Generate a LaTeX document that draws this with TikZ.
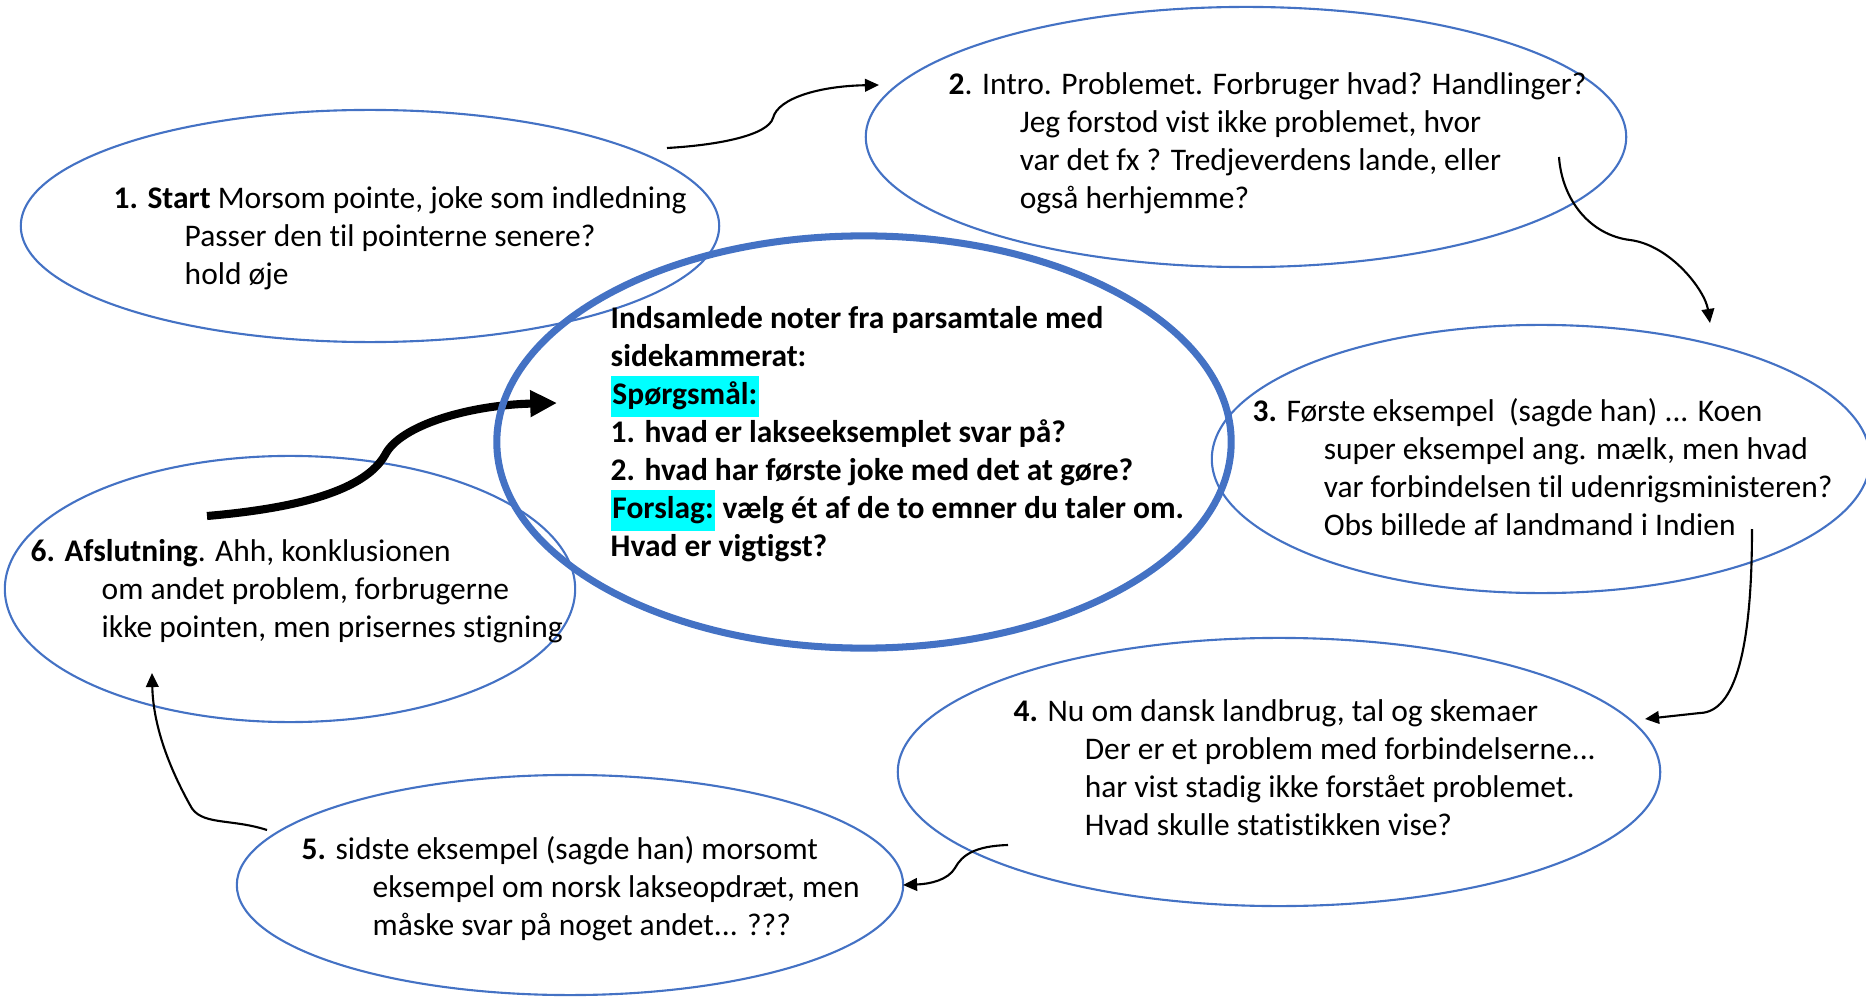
\documentclass[tikz,border=0pt]{standalone}
\usepackage{fontspec}
\setmainfont{Carlito}[Ligatures=NoCommon]
\usepackage{xcolor}
\usetikzlibrary{arrows.meta,shapes.geometric,calc,positioning}
\definecolor{bubblue}{HTML}{4472C4}
\definecolor{hlcyan}{HTML}{00FFFF}
\newcommand{\ind}{\hspace*{0.71cm}}
\newcommand{\hlbox}[1]{{\setlength{\fboxsep}{0.5pt}\colorbox{hlcyan}{\strut #1}}}

\begin{document}
\begin{tikzpicture}[x=0.01cm, y=-0.01cm]
		\tikzstyle{every node}=[font=\fontsize{8.95}{10.8}\selectfont]
		\tikzstyle{bubble}=[ellipse, draw=bubblue, line width=0.6pt, inner sep=0pt]
		\tikzstyle{notes}=[anchor=north west, align=left, inner sep=0pt]
		\tikzstyle{flow}=[line width=0.6pt, -{Triangle[length=4pt,width=3.6pt]}]
		\useasboundingbox (0,0) rectangle (1866,997);
		% end points of the connectors
		\coordinate (a1s) at (667,148);
		\coordinate (a1e) at (879,85);
		\coordinate (a2s) at (1559,157);
		\coordinate (a2e) at (1710,323);
		\coordinate (a3s) at (1752,529);
		\coordinate (a3e) at (1645,719);
		\coordinate (a4s) at (1008,845);
		\coordinate (a4e) at (903,885);
		\coordinate (a5s) at (267,830);
		\coordinate (a5e) at (152,673);
		\coordinate (a6s) at (207,516);
		\coordinate (a6e) at (557,403);
		% bubbles
		\node [bubble, minimum width=6.98cm, minimum height=2.32cm] (e1) at (370,226) {};
		\node [bubble, minimum width=7.60cm, minimum height=2.60cm] (e2) at (1246,137) {};
		\node [bubble, minimum width=6.58cm, minimum height=2.68cm] (e3) at (1541,459) {};
		\node [bubble, minimum width=7.62cm, minimum height=2.68cm] (e4) at (1279,772) {};
		\node [bubble, minimum width=6.66cm, minimum height=2.20cm] (e5) at (570,885) {};
		\node [bubble, minimum width=5.70cm, minimum height=2.66cm] (e6) at (290,589) {};
		\draw [line width=2.3pt, -{Triangle[length=7.6pt,width=7.2pt]}] (a6s) .. controls (300,508) and (365,490) .. (385,455) .. controls (400,425) and (470,405) .. (a6e);
		\node [ellipse, draw=bubblue, line width=2pt, inner sep=0pt, minimum width=7.34cm, minimum height=4.12cm] (ec) at (864,442) {};
		% texts
		\node [notes] (t1) at (113,181) {\strut\textbf{1. Start} Morsom pointe, joke som indledning\\
			\ind Passer den til pointerne senere?\\
			\ind hold øje};
		\node [notes] (t2) at (948,67) {\strut\textbf{2}. Intro. Problemet. Forbruger hvad? Handlinger?\\
			\ind Jeg forstod vist ikke problemet, hvor\\
			\ind var det fx ? Tredjeverdens lande, eller\\
			\ind også herhjemme?};
		\node [notes] (t3) at (1252,394) {\strut\textbf{3.} Første eksempel\ \ (sagde han) ... Koen\\
			\ind super eksempel ang. mælk, men hvad\\
			\ind var forbindelsen til udenrigsministeren?\\
			\ind Obs billede af landmand i Indien};
		\node [notes] (t4) at (1013,694) {\strut\textbf{4.} Nu om dansk landbrug, tal og skemaer\\
			\ind Der er et problem med forbindelserne...\\
			\ind har vist stadig ikke forstået problemet.\\
			\ind Hvad skulle statistikken vise?};
		\node [notes] (t5) at (301,832) {\strut\textbf{5.} sidste eksempel (sagde han) morsomt\\
			\ind eksempel om norsk lakseopdræt, men\\
			\ind måske svar på noget andet... ???};
		\node [notes] (t6) at (30,534) {\strut\textbf{6. Afslutning}. Ahh, konklusionen\\
			\ind om andet problem, forbrugerne\\
			\ind ikke pointen, men prisernes stigning};
		\node [notes, font=\fontsize{8.95}{10.8}\selectfont\bfseries] (tc) at (610,301) {\strut Indsamlede noter fra parsamtale med\\
			sidekammerat:\\
			\hlbox{Spørgsmål:}\\
			1. hvad er lakseeksemplet svar på?\\
			2. hvad har første joke med det at gøre?\\
			\hlbox{Forslag:} vælg ét af de to emner du taler om.\\
			Hvad er vigtigst?};
		% connectors
		\draw [flow] (a1s) .. controls (720,145) and (768,135) .. (773,118) .. controls (778,98) and (820,86) .. (a1e);
		\draw [flow] (a2s) .. controls (1562,200) and (1590,235) .. (1630,240) .. controls (1670,245) and (1705,290) .. (a2e);
		\draw [flow] (a3s) .. controls (1752,650) and (1735,712) .. (1700,713) -- (a3e);
		\draw [flow] (a4s) .. controls (975,846) and (962,855) .. (955,868) .. controls (948,880) and (930,884) .. (a4e);
		\draw [flow] (a5s) .. controls (230,818) and (200,826) .. (190,805) .. controls (165,760) and (153,720) .. (a5e);
\end{tikzpicture}
\end{document}
